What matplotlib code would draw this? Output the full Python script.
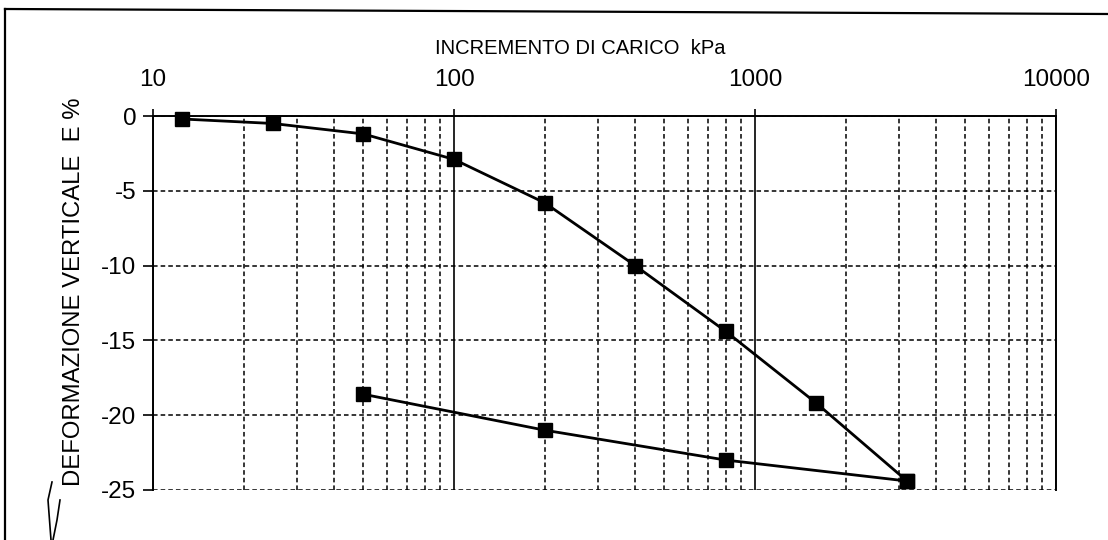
import numpy as np
import matplotlib.pyplot as plt
from matplotlib.lines import Line2D
from matplotlib.ticker import FixedLocator, NullFormatter

plt.rcParams['font.family'] = ['Liberation Sans', 'DejaVu Sans']

# loading branch
load_kpa = [12.5, 25, 50, 100, 200, 400, 800, 1600, 3200]
load_def = [-0.2, -0.5, -1.2, -2.9, -5.8, -10.0, -14.4, -19.2, -24.4]
# unloading branch
unload_kpa = [3200, 800, 200, 50]
unload_def = [-24.4, -23.0, -21.0, -18.6]

x_major = [10, 100, 1000, 10000]
x_labels = ['10', '100', '1000', '10000']
y_major = [0, -5, -10, -15, -20, -25]

fig = plt.figure(figsize=(11.08, 5.40), dpi=100)
ax = fig.add_axes([153/1108, 1 - 490/540, (1056 - 153)/1108, (490 - 116)/540])

ax.set_xscale('log')
ax.set_xlim(10, 10000)
ax.set_ylim(-25, 0)

ax.plot(load_kpa, load_def, color='black', lw=2, marker='s', ms=9.5, zorder=5, clip_on=False)
ax.plot(unload_kpa, unload_def, color='black', lw=2, marker='s', ms=9.5, zorder=5, clip_on=False)

# ticks on top
ax.xaxis.tick_top()
ax.xaxis.set_major_locator(FixedLocator(x_major))
ax.set_xticklabels(x_labels)
minors = [m * d for d in [10, 100, 1000] for m in range(2, 10)]
ax.xaxis.set_minor_locator(FixedLocator(minors))
ax.xaxis.set_minor_formatter(NullFormatter())
ax.set_yticks(y_major)
ax.set_yticklabels([str(v) for v in y_major])

ax.tick_params(axis='x', which='major', direction='out', length=5, width=1.2, pad=13, labelsize=17.5)
ax.tick_params(axis='x', which='minor', length=0)
ax.tick_params(axis='y', which='major', direction='out', length=7, width=1.2, pad=5, labelsize=17.5)

# grid
ax.grid(True, axis='x', which='major', color='black', lw=1.2, ls='-')
ax.grid(True, axis='x', which='minor', color='black', lw=1.1, ls=(0, (3, 2)))
ax.grid(True, axis='y', which='major', color='black', lw=1.1, ls=(0, (3, 2)))

for s in ['top', 'left', 'right']:
    ax.spines[s].set_linewidth(1.4)
ax.spines['bottom'].set_visible(False)

fig.text(580 / 1108, 1 - 48 / 540, 'INCREMENTO DI CARICO  kPa', ha='center', va='center',
         fontsize=14.5)
fig.text(74 / 1108, 1 - 292 / 540, 'DEFORMAZIONE VERTICALE  E %', ha='center', va='center',
         rotation=90, fontsize=17.2)

# scanned page frame
fig.add_artist(Line2D([5/1108, 1], [1 - 9/540, 1 - 14/540], color='black', lw=1.6))
fig.add_artist(Line2D([5/1108, 5/1108], [1 - 9/540, 0], color='black', lw=1.6))
# pen stroke
fig.add_artist(Line2D([52/1108, 48/1108, 51/1108], [1 - 482/540, 1 - 500/540, 0], color='black', lw=1.2))
fig.add_artist(Line2D([60/1108, 57/1108, 53/1108], [1 - 500/540, 1 - 520/540, 0], color='black', lw=1.2))

fig.savefig('out.png', dpi=100)
